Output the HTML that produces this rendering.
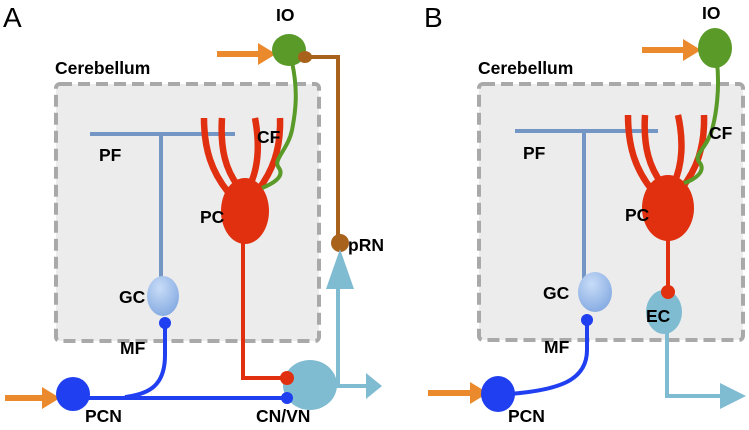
<!DOCTYPE html>
<html><head><meta charset="utf-8"><style>
html,body{margin:0;padding:0;background:#fff;}
svg{display:block;font-family:"Liberation Sans",sans-serif;}
.b{font-weight:bold;font-size:17.5px;fill:#000;}
</style></head><body>
<svg width="749" height="430" viewBox="0 0 749 430" xmlns="http://www.w3.org/2000/svg">
<defs>
<radialGradient id="gc" cx="0.4" cy="0.3" r="0.8"><stop offset="0" stop-color="#c8dcf7"/><stop offset="1" stop-color="#7fa6e0"/></radialGradient>
</defs>
<!-- Panel A -->
<text x="3" y="27" font-size="28" fill="#000">A</text>
<rect x="56" y="84" width="263" height="257" rx="4" fill="#ececec" stroke="#a9a9a9" stroke-width="4" stroke-dasharray="12 6"/>
<text class="b" x="55" y="74" font-size="18.5">Cerebellum</text>
<text class="b" x="276" y="21">IO</text>
<path d="M305 57 H338 V238" fill="none" stroke="#a8621c" stroke-width="4"/>
<ellipse cx="340" cy="243" rx="9" ry="9" fill="#a8621c"/>
<text class="b" x="348" y="251">pRN</text>
<path d="M338 385 V285" stroke="#7fbcd2" stroke-width="4" fill="none"/>
<polygon points="340,249 326,289 354,289" fill="#7fbcd2"/>
<path d="M330 386 H370" stroke="#7fbcd2" stroke-width="4" fill="none"/>
<polygon points="382,386 366,373 366,399" fill="#7fbcd2"/>
<path d="M217 54 H260" stroke="#ea8a2c" stroke-width="6"/>
<polygon points="276,54 258,43 258,65" fill="#ea8a2c"/>
<path d="M5 398 H44" stroke="#ea8a2c" stroke-width="6"/>
<polygon points="60,398 42,387 42,409" fill="#ea8a2c"/>
<path d="M90 134 H235 M161 134 V282" stroke="#7496c4" stroke-width="4" fill="none"/>
<text class="b" x="99" y="161">PF</text>
<g stroke="#e0300f" stroke-width="6.5" fill="none">
<path d="M204 118 C204 150 212 172 228 192"/>
<path d="M222 118 C220 150 226 170 238 186"/>
<path d="M255 118 C260 145 258 168 250 185"/>
<path d="M280 118 C281 150 272 172 258 190"/>
</g>
<path d="M243 230 V378 H286" stroke="#e0300f" stroke-width="4" fill="none"/>
<ellipse cx="245" cy="211" rx="24" ry="33" fill="#e0300f"/>
<text class="b" x="200" y="223">PC</text>
<path d="M292 62 C298 90 296 110 292 130 C288 150 272 160 279 168 C285 177 272 184 262 188" stroke="#5a9a28" stroke-width="4" fill="none"/>
<text class="b" x="257" y="143">CF</text>
<ellipse cx="289" cy="50" rx="17" ry="16" fill="#5a9a28"/>
<ellipse cx="305" cy="57" rx="7" ry="6" fill="#a8621c"/>
<ellipse cx="163" cy="296" rx="16" ry="20" fill="url(#gc)"/>
<text class="b" x="119" y="303">GC</text>
<path d="M165 323 V355 C165 385 150 394 125 397 M80 398 H287" stroke="#1f3ff0" stroke-width="4" fill="none"/>
<circle cx="165" cy="323" r="6" fill="#1f3ff0"/>
<text class="b" x="120" y="354">MF</text>
<ellipse cx="310" cy="385" rx="27" ry="25" fill="#7fbcd2"/>
<circle cx="287" cy="378" r="7" fill="#e0300f"/>
<circle cx="287" cy="398" r="6" fill="#1f3ff0"/>
<ellipse cx="73" cy="394" rx="17" ry="17" fill="#1f3ff0"/>
<text class="b" x="85" y="422">PCN</text>
<text class="b" x="256" y="422">CN/VN</text>

<!-- Panel B -->
<text x="424" y="27" font-size="28" fill="#000">B</text>
<rect x="479" y="84" width="264" height="256" rx="4" fill="#ececec" stroke="#a9a9a9" stroke-width="4" stroke-dasharray="12 6"/>
<text class="b" x="478" y="74" font-size="18.5">Cerebellum</text>
<text class="b" x="702" y="19">IO</text>
<path d="M642 50 H686" stroke="#ea8a2c" stroke-width="6"/>
<polygon points="701,50 683,39 683,61" fill="#ea8a2c"/>
<path d="M428 393 H472" stroke="#ea8a2c" stroke-width="6"/>
<polygon points="488,393 470,382 470,404" fill="#ea8a2c"/>
<path d="M515 131 H658 M584 131 V280" stroke="#7496c4" stroke-width="4" fill="none"/>
<text class="b" x="523" y="159">PF</text>
<g stroke="#e0300f" stroke-width="6.5" fill="none">
<path d="M628 115 C628 148 636 170 652 190"/>
<path d="M645 115 C643 148 650 168 662 184"/>
<path d="M678 115 C684 142 682 166 674 183"/>
<path d="M704 115 C705 148 696 170 682 188"/>
</g>
<path d="M668 230 V292" stroke="#e0300f" stroke-width="4"/>
<ellipse cx="668" cy="208" rx="26" ry="33" fill="#e0300f"/>
<text class="b" x="625" y="221">PC</text>
<path d="M717 62 C720 90 716 115 712 130 C706 150 692 155 700 163 C706 172 694 180 684 183" stroke="#5a9a28" stroke-width="4" fill="none"/>
<text class="b" x="709" y="139">CF</text>
<ellipse cx="715" cy="48" rx="17" ry="20" fill="#5a9a28"/>
<path d="M667 330 V396 H722" stroke="#7fbcd2" stroke-width="4" fill="none"/>
<polygon points="746,396 720,383 720,409" fill="#7fbcd2"/>
<ellipse cx="664" cy="312" rx="18" ry="22" fill="#7fbcd2"/>
<circle cx="668" cy="292" r="7" fill="#e0300f"/>
<text class="b" x="646" y="322">EC</text>
<ellipse cx="595" cy="292" rx="17" ry="20" fill="url(#gc)"/>
<text class="b" x="543" y="299">GC</text>
<path d="M587 320 V350 C587 380 560 390 510 394" stroke="#1f3ff0" stroke-width="4" fill="none"/>
<circle cx="587" cy="320" r="6" fill="#1f3ff0"/>
<text class="b" x="544" y="353">MF</text>
<ellipse cx="498" cy="394" rx="17" ry="18" fill="#1f3ff0"/>
<text class="b" x="508" y="422">PCN</text>
</svg>
</body></html>
